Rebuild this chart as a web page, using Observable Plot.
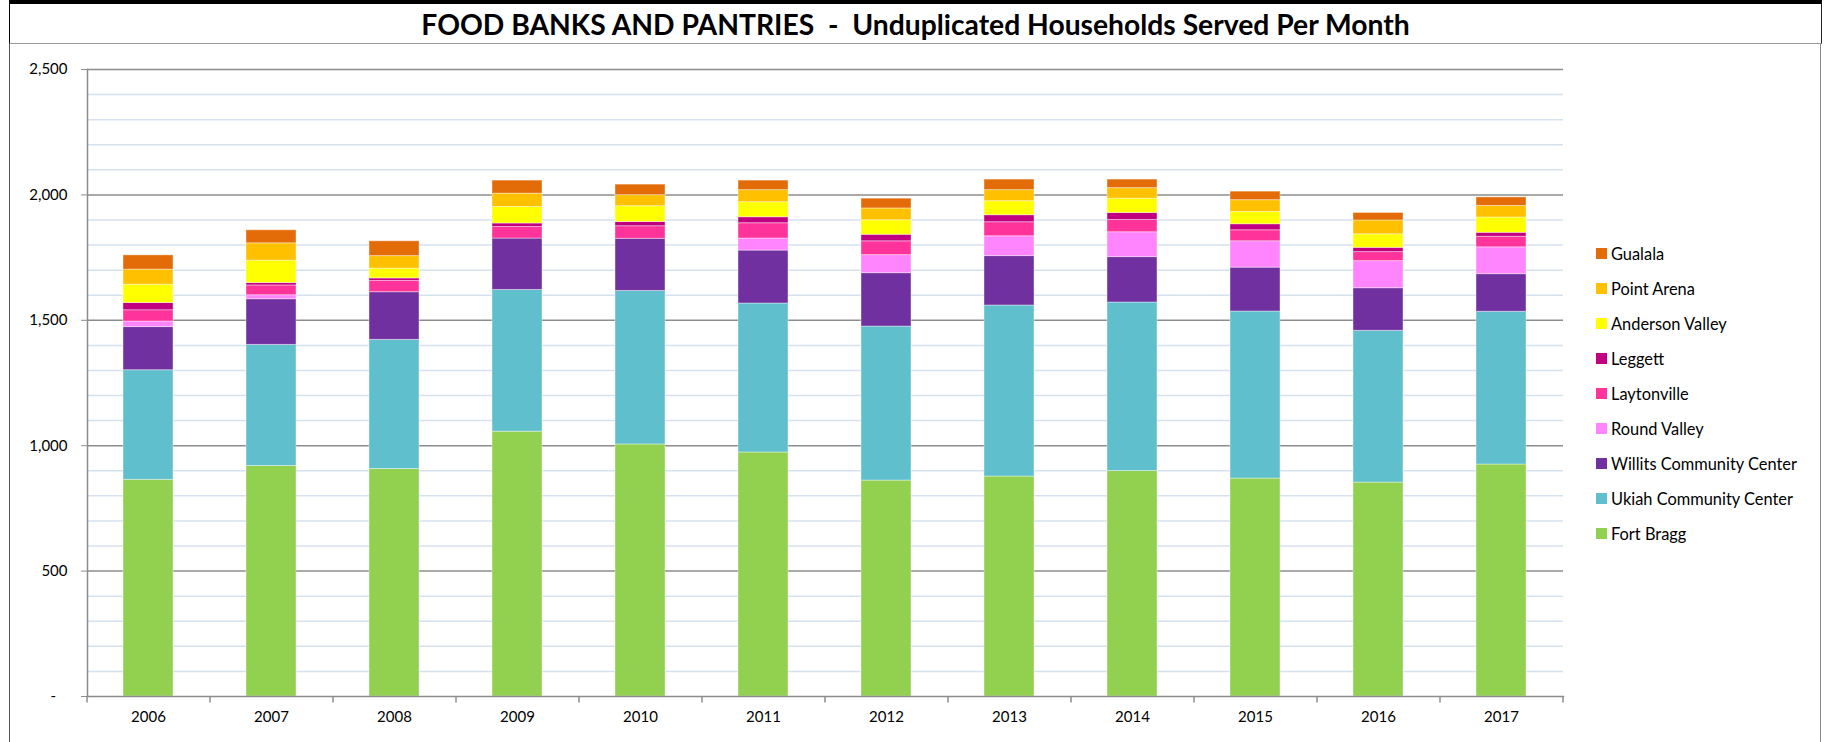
<!DOCTYPE html>
<html>
<head>
<meta charset="utf-8">
<script src="https://cdn.jsdelivr.net/npm/d3@7"></script>
<script src="https://cdn.jsdelivr.net/npm/@observablehq/plot@0.6"></script>
<style>
  html, body { margin: 0; padding: 0; background: #fff; }
  #wrap { position: relative; width: 1825px; height: 742px; overflow: hidden; font-family: Lato, "Open Sans", sans-serif; }
  #title { position: absolute; left: 9px; top: 0; width: 1813px; height: 44px; box-sizing: border-box;
    border-top: 4px solid #000; border-left: 1px solid #000; border-right: 1px solid #222; border-bottom: 1px solid #999;
    display: flex; align-items: center; justify-content: center; font-weight: 700; color: #000; white-space: pre; }
  #frame { position: absolute; left: 9px; top: 44px; width: 1812px; height: 698px; box-sizing: border-box;
    border-left: 1px solid #555; border-right: 1px solid #888; }
  #chart { position: absolute; left: 0; top: 44px; }
  #legend { position: absolute; left: 1596px; top: 0; font-size: 16.4px; color: #000; }
  .item { position: absolute; left: 0; height: 20px; display: flex; align-items: center; white-space: nowrap; }
  .sw { width: 11px; height: 11px; margin-right: 4px; flex: none; }
</style>
</head>
<body>
<div id="wrap">
  <div id="frame"></div>
  <div id="title"><span id="ttext">FOOD BANKS AND PANTRIES  -  Unduplicated Households Served Per Month</span></div>
  <div id="chart"></div>
  <div id="legend"></div>
</div>
<script>
const years = ["2006","2007","2008","2009","2010","2011","2012","2013","2014","2015","2016","2017"];
const seriesNames = ["Fort Bragg","Ukiah Community Center","Willits Community Center","Round Valley","Laytonville","Leggett","Anderson Valley","Point Arena","Gualala"];
const seriesColors = ["#92D050","#5FBFCC","#7030A0","#FF85FF","#FF3399","#C00080","#FFFF00","#FFC000","#E36C09"];

const fortBragg      = [864, 919, 907, 1056, 1005, 973, 861, 877, 899, 869, 853, 925];
const ukiah          = [437, 483, 515,  565,  612, 594, 614, 682, 672, 666, 605, 609];
const willits        = [172, 182, 190,  205,  208, 211, 213, 197, 181, 175, 170, 150];
const roundValley    = [ 22,  16,   0,    0,    0,  48,  72,  79,  99, 105, 108, 107];
const laytonville    = [ 45,  39,  45,   46,   50,  61,  55,  56,  49,  44,  36,  42];
const leggett        = [ 29,  10,  10,   14,   17,  24,  26,  28,  28,  24,  17,  16];
const andersonValley = [ 73,  89,  39,   66,   63,  60,  58,  56,  57,  49,  54,  61];
const pointArena     = [ 60,  69,  50,   53,   44,  48,  47,  44,  42,  47,  55,  46];
const gualala        = [ 57,  52,  59,   52,   42,  38,  39,  42,  34,  34,  30,  34];

const yTicks = [0, 500, 1000, 1500, 2000, 2500];
const yMinor = [100,200,300,400,600,700,800,900,1100,1200,1300,1400,1600,1700,1800,1900,2100,2200,2300,2400];

const seriesValues = [fortBragg, ukiah, willits, roundValley, laytonville, leggett, andersonValley, pointArena, gualala];
const table = [];
seriesNames.forEach((name, i) => {
  years.forEach((yr, j) => table.push({year: yr, series: name, value: seriesValues[i][j]}));
});

// title fit
const tt = document.getElementById("ttext");
tt.style.fontSize = "30px";
const w0 = tt.getBoundingClientRect().width;
tt.style.fontSize = (30 * 989 / w0).toFixed(2) + "px";

const W = 1825, H = 698, ML = 87, MR = 262, MT = 25, MB = 46;
const step = (W - ML - MR) / years.length;

const chart = Plot.plot({
  width: W, height: H,
  marginLeft: ML, marginRight: MR, marginTop: MT, marginBottom: MB,
  style: {fontFamily: "Lato, 'Open Sans', sans-serif", fontSize: "15px", color: "#000", background: "transparent"},
  x: {type: "band", domain: years, paddingInner: 0.59, paddingOuter: 0.295, label: null},
  y: {domain: [0, 2500], label: null},
  color: {domain: seriesNames, range: seriesColors},
  marks: [
    Plot.ruleY(yMinor, {stroke: "#D6E1F0", strokeWidth: 1.5}),
    Plot.ruleY(yTicks.filter(d => d > 0), {stroke: "#8C8C8C", strokeWidth: 1.5}),
    Plot.barY(table, {x: "year", y: "value", fill: "series", order: seriesNames,
      stroke: "white", strokeOpacity: 0.4, strokeWidth: 1}),
    Plot.frame({anchor: "left", stroke: "#8C8C8C", strokeWidth: 1.5}),
    Plot.frame({anchor: "bottom", stroke: "#8C8C8C", strokeWidth: 1.5}),
    Plot.ruleX(years, {x: d => d, y1: 0, y2: -26, dx: -step / 2, stroke: "#8C8C8C", strokeWidth: 1.5}),
    Plot.ruleX(years.slice(-1), {x: d => d, y1: 0, y2: -26, dx: step / 2, stroke: "#8C8C8C", strokeWidth: 1.5}),
    Plot.axisY({ticks: yTicks, tickSize: 6, tickPadding: 14, stroke: "#8C8C8C",
      tickFormat: d => d === 0 ? "-\u00a0\u00a0\u00a0" : d3.format(",")(d), fill: "#000"}),
    Plot.axisX({tickSize: 0, tickPadding: 15, fill: "#000"})
  ]
});
document.getElementById("chart").appendChild(chart);

// legend (top entry = top of stack)
const legend = document.getElementById("legend");
const legendOrder = seriesNames.map((n, i) => ({n, c: seriesColors[i]})).reverse();
legendOrder.forEach((d, k) => {
  const it = document.createElement("div");
  it.className = "item";
  it.style.top = (253 + k * 35.1 - 10) + "px";
  it.innerHTML = `<div class="sw" style="background:${d.c}"></div><span>${d.n}</span>`;
  legend.appendChild(it);
});
</script>
</body>
</html>
